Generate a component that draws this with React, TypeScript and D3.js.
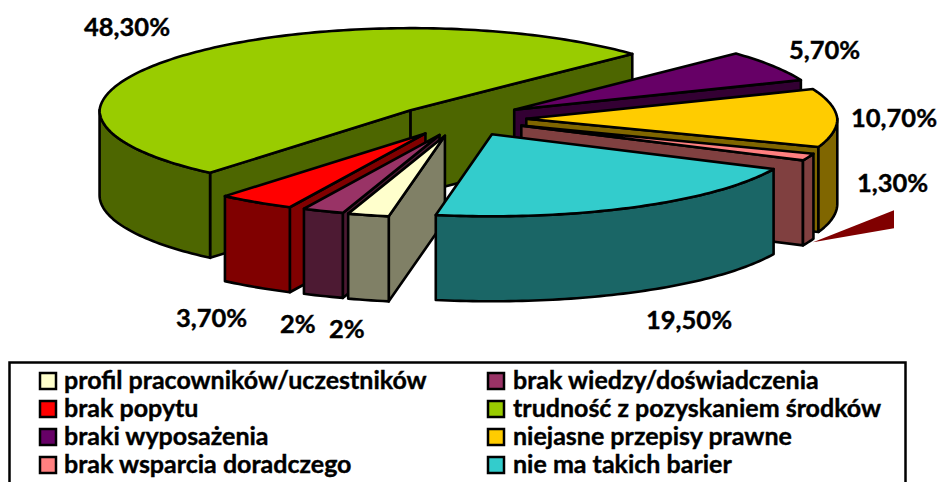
import React from "react";
import * as d3 from "d3";

const categories = [
  "profil pracowników/uczestników",
  "brak wiedzy/doświadczenia",
  "brak popytu",
  "trudność z pozyskaniem środków",
  "braki wyposażenia",
  "niejasne przepisy prawne",
  "brak wsparcia doradczego",
  "nie ma takich barier",
];
const values = [2, 2, 3.7, 48.3, 5.7, 10.7, 1.3, 19.5];
const valueLabels = ["2%", "2%", "3,70%", "48,30%", "5,70%", "10,70%", "1,30%", "19,50%"];
const topColors = ["#ffffcc", "#993366", "#ff0000", "#99cc00", "#660066", "#ffcc00", "#ff8080", "#33cccc"];
const wallColors = ["#808066", "#4d1a33", "#800000", "#4d6600", "#330033", "#806600", "#804040", "#1a6666"];
const legendOrder = [0, 1, 2, 3, 4, 5, 6, 7];
const paintOrder = [3, 4, 5, 6, 2, 1, 0, 7];

const labelX = [329, 280, 176, 84, 789, 851, 857, 646];
const labelY = [338, 333, 327, 36, 59, 127, 192, 329];
const nudgeX = [0, 3, 0, -3, -2, 0, 0, 1];
const nudgeY = [0, 0, 0, 3, 0, 0, 0, 0];

const W = 940, H = 482;
const CX = 461, CY = 119, RX = 311, RY = 82, DEPTH = 85, EXPLODE = 0.21, PERSP = 0.03;
const START = (190.4 * Math.PI) / 180;
const FONT = "Lato, Carlito, sans-serif";

const pt = (cx: number, cy: number, a: number, dz = 0): [number, number] => [
  cx + Math.sin(a) * RX * (1 - PERSP * Math.max(0, Math.cos(a))),
  cy - Math.cos(a) * RY + dz,
];

const line = d3.line<[number, number]>();

function sample(a0: number, a1: number): number[] {
  const n = Math.max(2, Math.ceil(Math.abs(a1 - a0) / 0.02));
  return d3.range(n + 1).map((i) => a0 + ((a1 - a0) * i) / n);
}

function Slice({ d, i }: { d: d3.PieArcDatum<number>; i: number }) {
  const a0 = d.startAngle, a1 = d.endAngle, mid = (a0 + a1) / 2;
  const cx = CX + Math.sin(mid) * EXPLODE * RX + nudgeX[i];
  const cy = CY - Math.cos(mid) * EXPLODE * RY + nudgeY[i];
  const top = [[cx, cy] as [number, number], ...sample(a0, a1).map((a) => pt(cx, cy, a))];
  const radial = (a: number) => [[cx, cy], pt(cx, cy, a), pt(cx, cy, a, DEPTH), [cx, cy + DEPTH]] as [number, number][];
  const walls: [number, number][][] = [];
  if (Math.sin(a0) < 0) walls.push(radial(a0));
  if (Math.sin(a1) > 0) walls.push(radial(a1));
  const PI = Math.PI;
  for (const k of [0, 2 * PI]) {
    const lo = Math.max(a0, PI / 2 + k), hi = Math.min(a1, (3 * PI) / 2 + k);
    if (hi > lo) {
      const s = sample(lo, hi);
      walls.push([...s.map((a) => pt(cx, cy, a)), ...s.slice().reverse().map((a) => pt(cx, cy, a, DEPTH))]);
    }
  }
  const style = { stroke: "#000", strokeWidth: 2.6, strokeLinejoin: "round" as const };
  return (
    <g>
      {walls.map((w, j) => (
        <path key={j} d={line(w)! + "Z"} fill={wallColors[i]} {...style} />
      ))}
      <path d={line(top)! + "Z"} fill={topColors[i]} {...style} />
    </g>
  );
}

export default function App() {
  const arcs = d3.pie<number>().sort(null).startAngle(START).endAngle(START + 2 * Math.PI)(values);
  const pink = arcs[6];
  const pMid = (pink.startAngle + pink.endAngle) / 2;
  const pinkTip = pt(CX + Math.sin(pMid) * EXPLODE * RX, CY - Math.cos(pMid) * EXPLODE * RY, pink.endAngle, DEPTH);
  const tx = pinkTip[0] + 10, ty = pinkTip[1] - 3;
  const leader: [number, number][] = [[tx, ty], [tx + 81, ty - 32], [tx + 81, ty - 14]];
  const rowY = [381, 409, 437, 465];
  return (
    <svg width={W} height={H} viewBox={`0 0 ${W} ${H}`} style={{ position: "absolute", left: 0, top: 0, display: "block", background: "#fff" }}>
      {paintOrder.map((i) => (
        <Slice key={i} d={arcs[i]} i={i} />
      ))}
      <path d={line(leader)! + "Z"} fill="#800000" />
      {valueLabels.map((t, i) => (
        <text key={i} x={labelX[i]} y={labelY[i]} fontFamily={FONT} fontWeight={700} fontSize={25.5} fill="#000" stroke="#000" strokeWidth={0.4}>
          {t}
        </text>
      ))}
      <rect x={9.5} y={362.5} width={896} height={140} fill="none" stroke="#000" strokeWidth={2.5} />
      {legendOrder.map((i) => {
        const col = i % 2, row = Math.floor(i / 2);
        const sx = col ? 488 : 40, tx2 = col ? 513 : 64;
        return (
          <g key={i}>
            <rect x={sx} y={rowY[row] - 8} width={16} height={16} fill={topColors[i]} stroke="#000" strokeWidth={2.5} />
            <text x={tx2} y={rowY[row] + 8} fontFamily={FONT} fontWeight={700} fontSize={25} fill="#000" stroke="#000" strokeWidth={0.4}>
              {categories[i]}
            </text>
          </g>
        );
      })}
    </svg>
  );
}
